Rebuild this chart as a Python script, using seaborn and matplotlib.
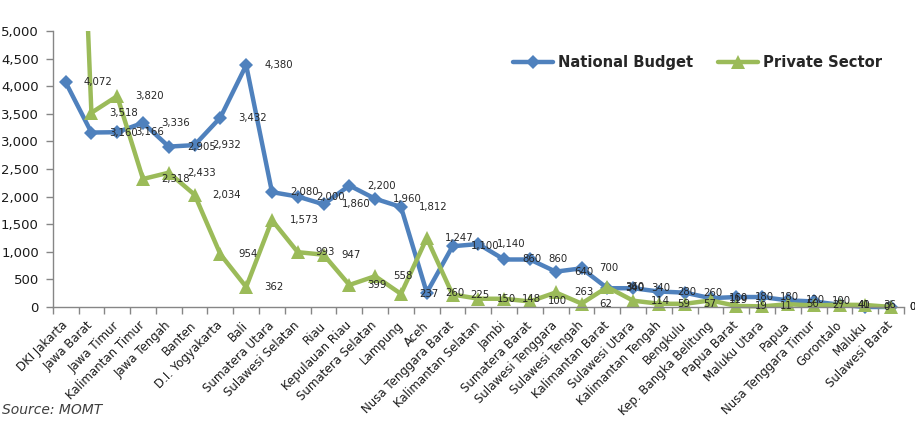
import numpy as np
import pandas as pd
import matplotlib
matplotlib.use("Agg")
import matplotlib.pyplot as plt
import seaborn as sns
from matplotlib.patches import Rectangle

# ---------------- data ----------------
regions = [
    "DKI Jakarta", "Jawa Barat", "Jawa Timur", "Kalimantan Timur", "Jawa Tengah",
    "Banten", "D.I. Yogyakarta", "Bali", "Sumatera Utara", "Sulawesi Selatan",
    "Riau", "Kepulauan Riau", "Sumatera Selatan", "Lampung", "Aceh",
    "Nusa Tenggara Barat", "Kalimantan Selatan", "Jambi", "Sumatera Barat",
    "Sulawesi Tenggara", "Sulawesi Tengah", "Kalimantan Barat", "Sulawesi Utara",
    "Kalimantan Tengah", "Bengkulu", "Kep. Bangka Belitung", "Papua Barat",
    "Maluku Utara", "Papua", "Nusa Tenggara Timur", "Gorontalo", "Maluku",
    "Sulawesi Barat",
]
national_budget = [
    4072, 3160, 3166, 3336, 2905, 2932, 3432, 4380, 2080, 2000,
    1860, 2200, 1960, 1812, 260, 1100, 1140, 860, 860, 640,
    700, 340, 340, 280, 260, 160, 180, 180, 120, 100,
    40, 0, 0,
]
private_sector = [
    15000, 3518, 3820, 2318, 2433, 2034, 954, 362, 1573, 993,
    947, 399, 558, 237, 1247, 225, 150, 148, 100, 263,
    62, 360, 114, 59, 57, 119, 19, 11, 50, 27,
    41, 36, 0,
]
series_names = ["National Budget", "Private Sector"]
y_ticks = [0, 500, 1000, 1500, 2000, 2500, 3000, 3500, 4000, 4500, 5000]

# ---------------- style ----------------
sns.set_theme(style="white")
plt.rcParams["font.family"] = ["DejaVu Sans"]

BLUE = "#4F81BD"
GREEN = "#9BBB59"
GRAY = "#868686"

fig, ax = plt.subplots(figsize=(9.15, 4.24), dpi=100)
fig.subplots_adjust(left=0.0576, right=0.988, top=0.927, bottom=0.276)

pos = list(range(len(regions)))
df = pd.DataFrame({
    "pos": pos * 2,
    "Region": regions * 2,
    "Value": national_budget + private_sector,
    "Series": [series_names[0]] * len(regions) + [series_names[1]] * len(regions),
})

styles = {
    series_names[0]: dict(color=BLUE, marker="D", markersize=7, linewidth=3.2),
    series_names[1]: dict(color=GREEN, marker="^", markersize=10, linewidth=3.2),
}
for name in series_names:
    sub = df[df["Series"] == name]
    st = styles[name]
    sns.lineplot(data=sub, x="pos", y="Value", ax=ax, color=st["color"],
                 marker=st["marker"], markersize=st["markersize"],
                 markeredgewidth=0, linewidth=st["linewidth"], label=name,
                 legend=False)

ax.set_xlim(-0.5, len(regions) - 0.5)
ax.set_ylim(0, 5000)

# let markers at 0 show below the axis while clipping the top
for ln in ax.lines:
    clip = Rectangle((-0.02, -0.06), 1.04, 1.06, transform=ax.transAxes)
    ln.set_clip_path(clip)

# data labels
for vals in (national_budget, private_sector):
    for i, v in enumerate(vals):
        if v > 5000:
            continue
        ax.annotate(f"{v:,}", (i, v), xytext=(13, 0), textcoords="offset points",
                    ha="left", va="center", fontsize=7.3, color="#262626",
                    annotation_clip=False)

# axes
ax.set_xlabel("")
ax.set_ylabel("")
ax.set_yticks(y_ticks)
ax.set_yticklabels([f"{v:,}" for v in y_ticks], fontsize=9.5, color="#1a1a1a")
ax.set_xticks(pos)
ax.set_xticklabels(regions, rotation=45, ha="right", va="center",
                   rotation_mode="anchor", fontsize=8.5, color="#1a1a1a")
ax.set_xticks(np.arange(-0.5, len(regions), 1.0), minor=True)
ax.tick_params(axis="x", which="major", bottom=False, length=0, pad=12)
ax.tick_params(axis="x", which="minor", bottom=True, length=5, width=1,
               color=GRAY, direction="out")
ax.tick_params(axis="y", which="major", left=True, length=5, width=1,
               color=GRAY, direction="out", pad=5)
for s in ("top", "right"):
    ax.spines[s].set_visible(False)
for s in ("left", "bottom"):
    ax.spines[s].set_color(GRAY)
    ax.spines[s].set_linewidth(1)
ax.grid(False)

ax.legend(loc="center right", bbox_to_anchor=(0.99, 0.884), ncol=2,
          frameon=False, prop={"weight": "bold", "size": 10.6},
          handlelength=2.7, columnspacing=1.7, handletextpad=0.34)

fig.text(0.002, 1 - 410 / 424, "Source: MOMT", style="italic", fontsize=10,
         color="#404040", va="center", ha="left")

fig.savefig("out.png", dpi=100)
